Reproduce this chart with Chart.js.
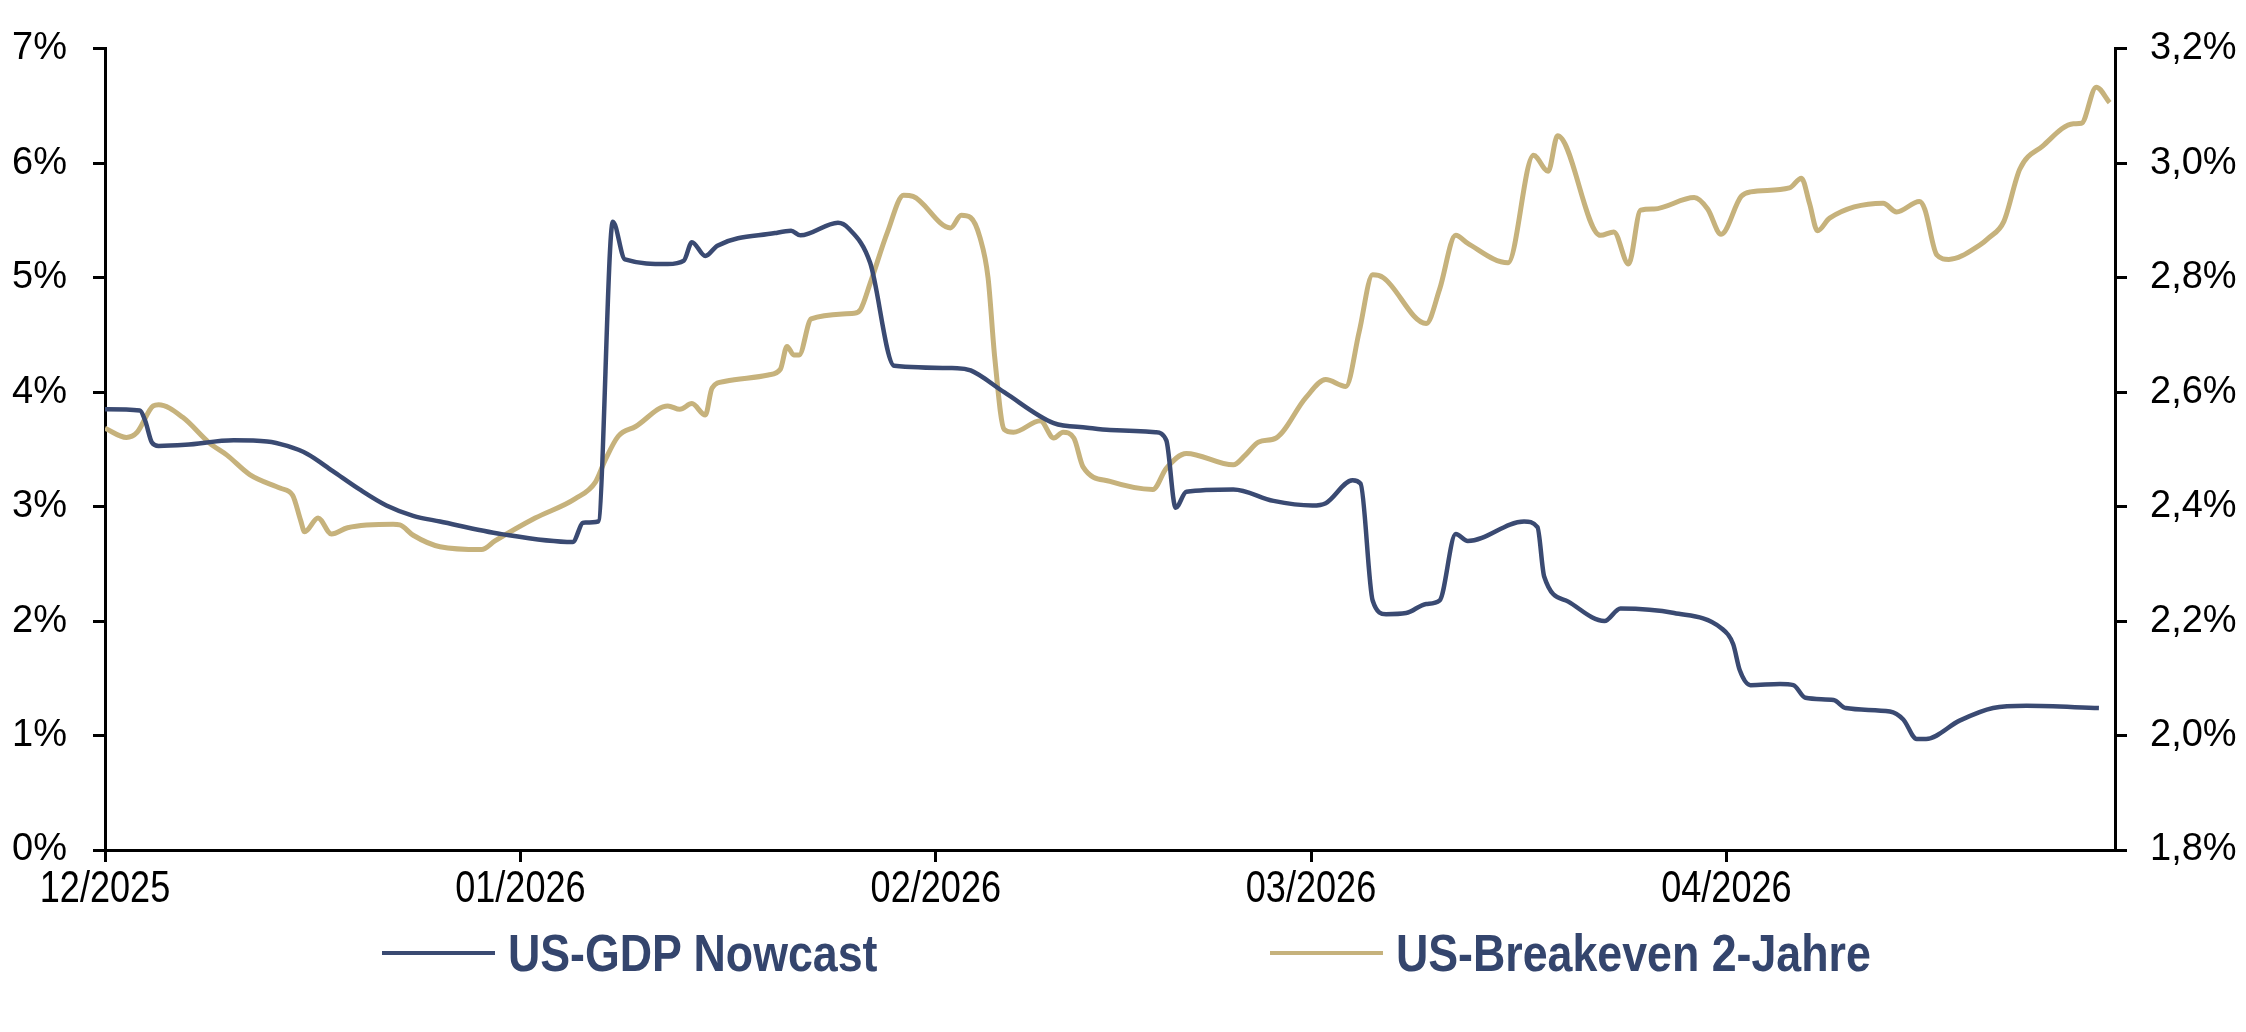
<!DOCTYPE html>
<html lang="de">
<head>
<meta charset="utf-8">
<title>US-GDP Nowcast und US-Breakeven 2-Jahre</title>
<script src="https://cdn.jsdelivr.net/npm/chart.js@4.4.1/dist/chart.umd.min.js"></script>
<style>
  html, body { margin: 0; padding: 0; background: #fff; }
  #wrap { position: relative; width: 2246px; height: 1032px; overflow: hidden; }
  #chart { position: absolute; left: 0; top: 0; }
  .legend-item { position: absolute; top: 925px; height: 56px; display: flex; align-items: center; }
  .legend-line { width: 113px; height: 4px; margin-right: 13px; flex: none; }
  .legend-text { font: bold 52px 'Liberation Sans', Arial, sans-serif; color: #34456d;
                 transform: scaleX(0.86); transform-origin: left center; white-space: nowrap; }
</style>
</head>
<body>
<div id="wrap">
  <canvas id="chart" width="2246" height="1032"></canvas>
  <div class="legend-item" style="left:382px">
    <div class="legend-line" style="background:#3a4a72"></div>
    <span class="legend-text">US-GDP Nowcast</span>
  </div>
  <div class="legend-item" style="left:1270px">
    <div class="legend-line" style="background:#c6b27c"></div>
    <span class="legend-text">US-Breakeven 2-Jahre</span>
  </div>
</div>
<script>
// x values are days counted from 01.12.2025
const gdpDays = [0, 2.6, 3.0, 3.5, 4, 6, 9.6, 12.1, 13.6, 15.1, 17, 19, 21, 23, 25, 29.6, 34.9, 35.7, 36.8,
  37.9, 38.8, 42, 43.2, 43.8, 44.8, 45.7, 50, 51.2, 51.9, 54.7, 55.5, 57.1, 58.9, 63.6, 64.6, 67.1, 70.8,
  73.3, 75, 78.4, 79.2, 79.9, 80.7, 84.2, 87.2, 90.1, 91.1, 93.1, 93.7, 94.6, 95.6, 97.1, 98.6, 99.6,
  100.8, 101.7, 105.9, 106.9, 107.4, 109.2, 111.9, 113.1, 117.1, 120.6, 121.5, 122, 122.8, 125, 126,
  126.9, 129, 129.9, 133.2, 134.2, 135.2, 135.9, 138.4, 140.9, 143.4, 148.8];
const gdpValues = [3.85, 3.84, 3.75, 3.56, 3.53, 3.54, 3.58, 3.57, 3.53, 3.46, 3.31, 3.15, 3.01, 2.92, 2.87,
  2.76, 2.69, 2.86, 2.87, 5.49, 5.16, 5.12, 5.15, 5.31, 5.19, 5.28, 5.39, 5.41, 5.37, 5.48, 5.43, 5.13,
  4.23, 4.21, 4.19, 4.0, 3.73, 3.69, 3.67, 3.65, 3.58, 2.99, 3.13, 3.15, 3.05, 3.01, 3.03, 3.23, 3.2,
  2.18, 2.06, 2.07, 2.15, 2.18, 2.76, 2.7, 2.87, 2.82, 2.39, 2.17, 2.0, 2.11, 2.07, 1.94, 1.8, 1.57,
  1.44, 1.45, 1.44, 1.33, 1.31, 1.24, 1.21, 1.14, 0.97, 0.97, 1.13, 1.24, 1.26, 1.24];

const beDays = [0, 1.6, 2.4, 3.6, 4, 5.8, 7.8, 9.1, 10.8, 13.1, 14, 14.6, 14.9, 15.9, 16.9, 18.1, 21.5, 22,
  23, 25, 28.1, 29.1, 32.1, 35.1, 36.6, 37.3, 38.3, 39.6, 42, 42.9, 43.8, 44.8, 45.3, 46.3, 49.5, 50.4,
  50.9, 51.4, 51.8, 52.7, 55.9, 56.4, 57.1, 58.4, 59.6, 60.3, 63.1, 63.9, 64.6, 65.3, 65.9, 66.4, 67.1,
  67.8, 69.8, 70.8, 71.5, 72.3, 73, 75, 78.2, 79.2, 80.7, 84.2, 85.1, 86.1, 87.4, 89.6, 91.1, 92.6, 93.6,
  94.6, 95.4, 98.6, 99.6, 100.8, 101.7, 104.7, 106.6, 107.7, 108.4, 111.6, 112.6, 113.7, 114.6, 115.6,
  118.6, 119.6, 120.6, 122.1, 122.8, 125.7, 126.6, 127.2, 127.8, 128.7, 132.7, 133.7, 135.4, 135.8,
  136.7, 137.6, 139.9, 140.6, 141.7, 142.9, 144.6, 146.9, 147.5, 148.6, 149.6];
const beValues = [2.537, 2.521, 2.53, 2.576, 2.578, 2.556, 2.511, 2.49, 2.456, 2.432, 2.42, 2.376, 2.356,
  2.38, 2.352, 2.363, 2.369, 2.368, 2.35, 2.33, 2.325, 2.34, 2.38, 2.414, 2.443, 2.48, 2.523, 2.54,
  2.576, 2.57, 2.58, 2.56, 2.607, 2.619, 2.63, 2.64, 2.68, 2.665, 2.665, 2.728, 2.738, 2.745, 2.79,
  2.88, 2.944, 2.942, 2.887, 2.909, 2.905, 2.87, 2.8, 2.66, 2.535, 2.53, 2.55, 2.52, 2.53, 2.52, 2.469,
  2.444, 2.43, 2.467, 2.493, 2.473, 2.49, 2.513, 2.52, 2.59, 2.622, 2.61, 2.706, 2.805, 2.8, 2.72,
  2.78, 2.874, 2.86, 2.826, 3.014, 2.986, 3.048, 2.874, 2.88, 2.824, 2.918, 2.92, 2.94, 2.92, 2.876,
  2.942, 2.95, 2.957, 2.974, 2.93, 2.882, 2.904, 2.93, 2.915, 2.933, 2.92, 2.84, 2.832, 2.857, 2.87,
  2.898, 2.99, 3.03, 3.069, 3.07, 3.133, 3.106];

const tickDays = [0, 31, 62, 90, 121];
const tickLabels = ['12/2025', '01/2026', '02/2026', '03/2026', '04/2026'];
const leftTicks = [0, 1, 2, 3, 4, 5, 6, 7];
const rightTicks = [1.8, 2.0, 2.2, 2.4, 2.6, 2.8, 3.0, 3.2];

const blue = '#3a4a72';
const gold = '#c6b27c';
const yFont = { family: "'Liberation Sans', Arial", size: 38 };

const axisGrid = { drawOnChartArea: false, tickLength: 12, lineWidth: 3, color: '#000' };
const axisBorder = { color: '#000', width: 3 };

// the date labels are set in a narrow face, so squeeze them a little
const narrowDateLabels = {
    id: 'narrowDateLabels',
    afterDraw(chart) {
        const ctx = chart.ctx;
        const xs = chart.scales.x;
        ctx.save();
        ctx.font = "44px 'Liberation Sans', Arial, sans-serif";
        ctx.fillStyle = '#000';
        ctx.textAlign = 'center';
        ctx.textBaseline = 'middle';
        tickDays.forEach((d, i) => {
            ctx.save();
            ctx.translate(xs.getPixelForValue(d), chart.chartArea.bottom + 40);
            ctx.scale(0.82, 1);
            ctx.fillText(tickLabels[i], 0, 0);
            ctx.restore();
        });
        ctx.restore();
    }
};

new Chart(document.getElementById('chart'), {
    type: 'line',
    data: {
        datasets: [{
            label: 'US-GDP Nowcast',
            data: gdpDays.map((d, i) => ({ x: d, y: gdpValues[i] })),
            yAxisID: 'yLeft',
            borderColor: blue,
            borderWidth: 4.5,
            pointRadius: 0,
            cubicInterpolationMode: 'monotone'
        }, {
            label: 'US-Breakeven 2-Jahre',
            data: beDays.map((d, i) => ({ x: d, y: beValues[i] })),
            yAxisID: 'yRight',
            borderColor: gold,
            borderWidth: 5,
            pointRadius: 0,
            cubicInterpolationMode: 'monotone'
        }]
    },
    options: {
        responsive: false,
        animation: false,
        devicePixelRatio: 1,
        layout: { padding: { top: 30, bottom: 92, left: 0, right: 0 } },
        plugins: { legend: { display: false }, tooltip: { enabled: false } },
        scales: {
            x: {
                type: 'linear',
                min: 0,
                max: 150,
                afterBuildTicks: s => { s.ticks = tickDays.map(v => ({ value: v })); },
                afterFit: s => { s.height = 90; },
                ticks: { display: false },
                grid: axisGrid,
                border: axisBorder
            },
            yLeft: {
                position: 'left',
                min: 0,
                max: 7,
                afterBuildTicks: s => { s.ticks = leftTicks.map(v => ({ value: v })); },
                afterFit: s => { s.width = 105; },
                ticks: { callback: v => v + '%', font: yFont, color: '#000', padding: 26 },
                grid: axisGrid,
                border: axisBorder
            },
            yRight: {
                position: 'right',
                min: 1.8,
                max: 3.2,
                afterBuildTicks: s => { s.ticks = rightTicks.map(v => ({ value: v })); },
                afterFit: s => { s.width = 131; },
                ticks: { callback: v => v.toFixed(1).replace('.', ',') + '%', font: yFont, color: '#000', padding: 23 },
                grid: axisGrid,
                border: axisBorder
            }
        }
    },
    plugins: [narrowDateLabels]
});
</script>
</body>
</html>
